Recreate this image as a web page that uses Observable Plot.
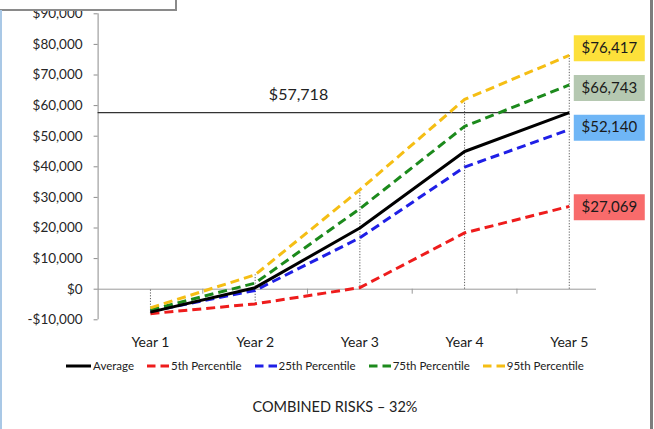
<!DOCTYPE html>
<html>
<head>
<meta charset="utf-8">
<script src="https://cdn.jsdelivr.net/npm/d3@7"></script>
<script src="https://cdn.jsdelivr.net/npm/@observablehq/plot@0.6"></script>
<style>
  html, body { margin: 0; padding: 0; background: #fff; width: 654px; height: 429px; overflow: hidden; }
  #wrap { position: relative; width: 654px; height: 429px; font-family: Lato, "Open Sans", sans-serif; }
  #chart { position: absolute; left: 0; top: 0; }
  #legend { position: absolute; left: 0; top: 359px; width: 650px; display: flex; justify-content: center; align-items: center; gap: 13px; font-size: 11.5px; color: #222; }
  #legend .item { display: flex; align-items: center; gap: 2px; }
  #legend svg { flex: none; }
  #title { position: absolute; left: 0; top: 398px; width: 670px; text-align: center; font-size: 14.5px; color: #222; }
  #topbox { position: absolute; left: -2px; top: -3px; width: 175px; height: 10px; background: #fff; border: 2px solid #8a8a8a; }
  #leftedge { position: absolute; left: 0; top: 10px; width: 2px; height: 419px; background: #a9c8e6; }
  #rightedge { position: absolute; left: 650px; top: 0; width: 3px; height: 429px; background: #7d7d7d; }
</style>
</head>
<body>
<div id="wrap">
  <div id="chart"></div>
  <div id="legend"></div>
  <div id="title">COMBINED RISKS – 32%</div>
  <div id="topbox"></div>
  <div id="leftedge"></div>
  <div id="rightedge"></div>
</div>
<script>
// ---- data ----
const years = [1, 2, 3, 4, 5];
const yearLabels = ["Year 1", "Year 2", "Year 3", "Year 4", "Year 5"];
const average = [-7500, 500, 20000, 45000, 57718];
const p5 = [-8000, -4800, 500, 18400, 27069];
const p25 = [-7200, -400, 16800, 39900, 52140];
const p75 = [-6800, 2000, 26300, 53200, 66743];
const p95 = [-6100, 4700, 32500, 62000, 76417];
const yTicks = [-10000, 0, 10000, 20000, 30000, 40000, 50000, 60000, 70000, 80000, 90000];
const seriesNames = ["Average", "5th Percentile", "25th Percentile", "75th Percentile", "95th Percentile"];
const seriesValues = [average, p5, p25, p75, p95];
const titleText = "COMBINED RISKS – 32%";

// ---- styles ----
const styles = {
  "Average": {color: "#000000", dash: null, boxFill: null, labelDy: 0},
  "5th Percentile": {color: "#ee1c1c", dash: "9,5", boxFill: "#f86b6b", labelDy: 1},
  "25th Percentile": {color: "#1f1fe6", dash: "9,5", boxFill: "#6fb6f6", labelDy: -2},
  "75th Percentile": {color: "#1c8a1c", dash: "9,5", boxFill: "#b5c8b1", labelDy: 3},
  "95th Percentile": {color: "#f5be14", dash: "9,5", boxFill: "#fde03a", labelDy: -7}
};

const rows = [];
seriesNames.forEach((name, s) => {
  years.forEach((yr, i) => rows.push({series: name, year: yr, value: seriesValues[s][i]}));
});

const drops = years.map((yr, i) => {
  const vals = seriesValues.map(v => v[i]);
  return {year: yr, lo: Math.min(0, ...vals), hi: Math.max(0, ...vals)};
});

const lastIdx = years.length - 1;
const refValue = average[lastIdx];
const fmtMoney = d => (d < 0 ? "-$" : "$") + d3.format(",")(Math.abs(d));

const boxSymbol = {draw(ctx) { ctx.rect(-35.5, -13, 71, 26); }};

const marks = [];
marks.push(Plot.ruleX([0.5], {y1: yTicks[0], y2: yTicks[yTicks.length - 1], stroke: "#8c8c8c", strokeWidth: 1}));
marks.push(Plot.ruleY([0], {stroke: "#9a9a9a", strokeWidth: 1}));
marks.push(Plot.ruleX(years.slice(0, -1).map(y => y + 0.5), {y1: 0, y2: 0, insetBottom: -5, stroke: "#9a9a9a"}));
marks.push(Plot.ruleX(drops, {x: "year", y1: "lo", y2: "hi", stroke: "#333", strokeWidth: 0.8, strokeDasharray: "1.2,1.6"}));
marks.push(Plot.ruleY([refValue], {x1: 0.5, x2: years[lastIdx], stroke: "#333", strokeWidth: 1.4}));
marks.push(Plot.text([refValue], {x: 2.5, y: d => d, text: d => fmtMoney(d), dx: -9, dy: -13, fontSize: 16, fill: "#222", lineAnchor: "bottom"}));
[1, 2, 3, 4, 0].forEach(s => {
  const name = seriesNames[s];
  const st = styles[name];
  marks.push(Plot.line(rows.filter(r => r.series === name), {
    x: "year", y: "value", stroke: st.color, strokeWidth: 3,
    strokeDasharray: st.dash || undefined, strokeLinejoin: "round", strokeLinecap: "butt"
  }));
});
[4, 3, 2, 1].forEach(s => {
  const name = seriesNames[s];
  const st = styles[name];
  const d = [{year: years[lastIdx], value: seriesValues[s][lastIdx]}];
  marks.push(Plot.dot(d, {x: "year", y: "value", symbol: boxSymbol, fill: st.boxFill, stroke: "none", r: 10, dx: 40, dy: st.labelDy}));
  marks.push(Plot.text(d, {x: "year", y: "value", text: r => fmtMoney(r.value), dx: 40, dy: st.labelDy, fontSize: 15, fill: "#1a1a1a"}));
});
marks.push(Plot.axisY({ticks: yTicks, tickFormat: fmtMoney, tickSize: 4, tickPadding: 11.5, stroke: "#8c8c8c", fill: "#262626", fontSize: 13.5, label: null}));
marks.push(Plot.axisX({ticks: years, tickFormat: d => yearLabels[years.indexOf(d)], tickSize: 0, tickPadding: 17, fill: "#1a1a1a", fontSize: 14, label: null}));

const chart = Plot.plot({
  width: 654,
  height: 352,
  marginLeft: 97.6,
  marginRight: 58,
  marginTop: 13.3,
  marginBottom: 32.7,
  style: {fontFamily: "Lato, 'Open Sans', sans-serif", background: "transparent"},
  x: {type: "linear", domain: [0.5, 5.26], label: null},
  y: {domain: [yTicks[0], yTicks[yTicks.length - 1]], label: null},
  marks
});
document.getElementById("chart").appendChild(chart);

const legend = document.getElementById("legend");
seriesNames.forEach(name => {
  const st = styles[name];
  const item = document.createElement("div");
  item.className = "item";
  const w = st.dash ? 22 : 25;
  item.innerHTML = `<svg width="${w}" height="8"><line x1="0" y1="4" x2="${w}" y2="4" stroke="${st.color}" stroke-width="3" ${st.dash ? 'stroke-dasharray="8.5,5"' : ''}/></svg><span>${name}</span>`;
  legend.appendChild(item);
});
document.getElementById("title").textContent = titleText;
</script>
</body>
</html>
